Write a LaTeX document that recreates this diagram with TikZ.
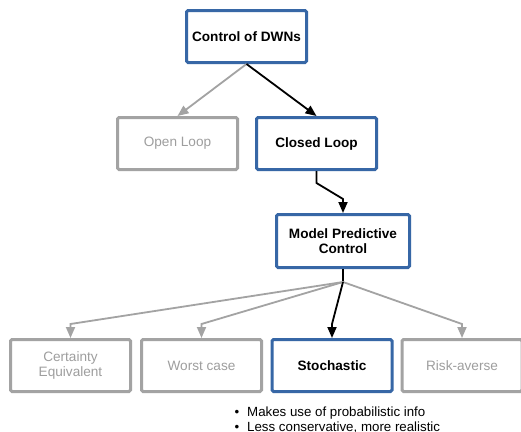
\documentclass[tikz,border=0pt]{standalone}
\usepackage{fontspec}
\setmainfont{Liberation Sans}
\usetikzlibrary{arrows.meta}

\definecolor{boxblue}{HTML}{3767A6}
\definecolor{boxgray}{HTML}{A3A3A3}
\definecolor{txtgray}{HTML}{9E9E9E}

\tikzset{
  box/.style={rectangle, rounded corners=1.5pt, line width=3pt,
    minimum width=120pt, minimum height=52pt, align=center, inner sep=2pt,
    font=\fontsize{13.6}{15}\selectfont},
  active/.style={box, draw=boxblue, fill=white, text=black, font=\fontsize{13.6}{15}\selectfont\bfseries},
  inactive/.style={box, draw=boxgray, fill=white, text=txtgray},
  tip/.style={-{Triangle[length=11pt,width=9pt]}},
  livelink/.style={tip, draw=black, line width=1.8pt},
  deadlink/.style={tip, draw=boxgray, line width=1.8pt},
}

\begin{document}
\begin{tikzpicture}[x=1pt, y=-1pt]
  \clip (0,0) rectangle (521,431);
  \fill[white] (0,0) rectangle (521,431);

  % top of the hierarchy
  \node[active] (dwn) at (246.5,36.5) {Control of DWNs};

  % loop type
  \node[inactive] (open)   at (177.5,143.5) {Open Loop};
  \node[active]   (closed) at (316.5,143.5) {Closed Loop};

  % controller
  \node[active, minimum width=133pt, minimum height=53pt] (mpc) at (343,241)
    {Model Predictive\\Control};

  % MPC flavours
  \node[inactive] (ce)    at (70.5,365.5)  {Certainty\\Equivalent};
  \node[inactive] (worst) at (201.5,365.5) {Worst case};
  \node[active]   (stoch) at (332,365.5)   {Stochastic};
  \node[inactive] (risk)  at (462,365.5)   {Risk-averse};

  % connectors
  \draw[deadlink] (dwn.south) -- (open.north);
  \draw[livelink] (dwn.south) -- (closed.north);

  \draw[livelink] (closed.south) -- ++(0,12)
    -- ([yshift=14pt]mpc.north) -- (mpc.north);

  \coordinate (fan) at ([yshift=-13pt]mpc.south);
  \draw[line width=1.8pt] (mpc.south) -- (fan);
  \draw[deadlink] (fan) -- ([yshift=14pt]ce.north) -- (ce.north);
  \draw[deadlink] (fan) -- ([yshift=14pt]worst.north) -- (worst.north);
  \draw[deadlink] (fan) -- ([yshift=14pt]risk.north) -- (risk.north);
  \draw[livelink] (fan) -- ([yshift=14pt]stoch.north) -- (stoch.north);

  % notes on the stochastic approach
  \node[anchor=north west, inner sep=0pt, align=left,
        font=\fontsize{13.3}{15}\selectfont] (notes) at (234.5,406.5)
    {\makebox[12.5pt][l]{•}Makes use of probabilistic info\\
     \makebox[12.5pt][l]{•}Less conservative, more realistic};
\end{tikzpicture}
\end{document}
